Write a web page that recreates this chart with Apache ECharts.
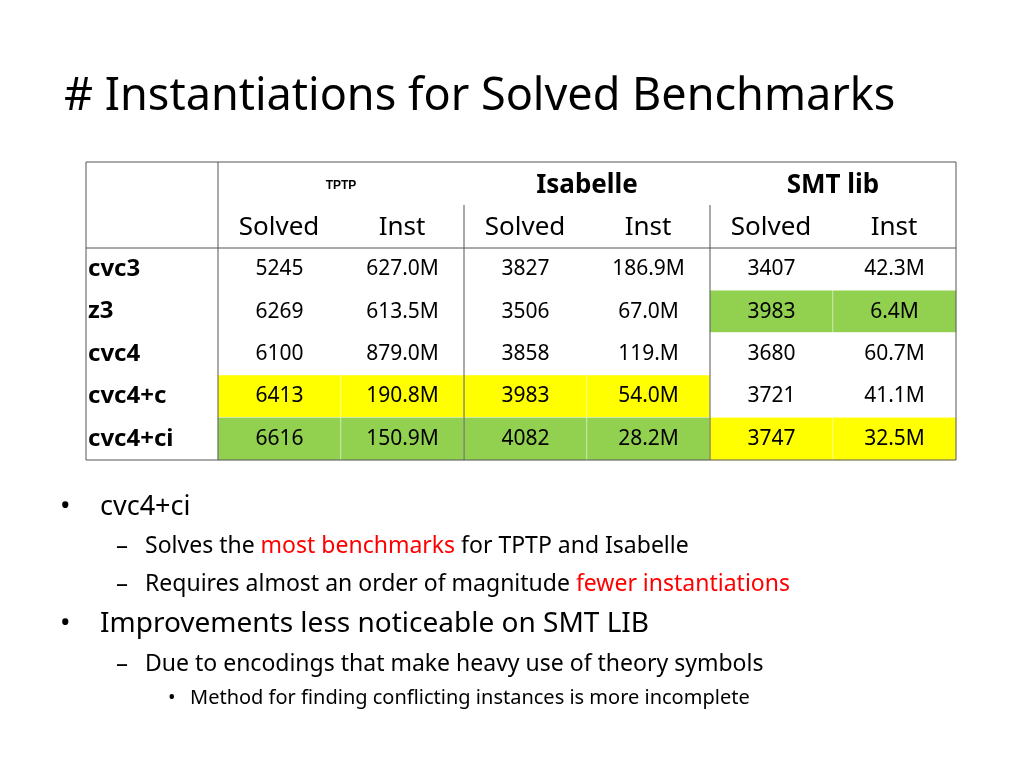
<!DOCTYPE html>
<html><head><meta charset="utf-8">
<script src="https://cdn.jsdelivr.net/npm/echarts@6/dist/echarts.min.js"></script>
<style>html,body{margin:0;background:#fff}#main{width:1024px;height:768px}</style>
</head><body><div id="main"></div>
<script>
var chartDom = document.getElementById('main');
var myChart = echarts.init(chartDom);
var option;

// filas y columnas de la tabla
var solvers = ['cvc3', 'z3', 'cvc4', 'cvc4+c', 'cvc4+ci'];
var columns = ['TPTP Solved', 'TPTP Inst', 'Isabelle Solved', 'Isabelle Inst', 'SMT Solved', 'SMT Inst'];
var tptpSolved = [5245, 6269, 6100, 6413, 6616];
var tptpInst = ['627.0M', '613.5M', '879.0M', '190.8M', '150.9M'];
var isaSolved = [3827, 3506, 3858, 3983, 4082];
var isaInst = ['186.9M', '67.0M', '119.M', '54.0M', '28.2M'];
var smtSolved = [3407, 3983, 3680, 3721, 3747];
var smtInst = ['42.3M', '6.4M', '60.7M', '41.1M', '32.5M'];
// 0 = blanco, 1 = amarillo, 2 = verde
var tptpMark = [0, 0, 0, 1, 2];
var isaMark = [0, 0, 0, 1, 2];
var smtMark = [0, 2, 0, 0, 1];

var fills = ['#ffffff', '#ffff00', '#92d050'];
var font = '"Noto Sans", sans-serif';

var cols = [tptpSolved, tptpInst, isaSolved, isaInst, smtSolved, smtInst];
var marks = [tptpMark, tptpMark, isaMark, isaMark, smtMark, smtMark];
var cells = [];
cols.forEach(function (col, c) {
    col.forEach(function (v, r) {
        cells.push({
            value: [c, r, marks[c][r]],
            label: { formatter: String(v) },
            itemStyle: { color: fills[marks[c][r]] }
        });
    });
});

var line = function (x1, y1, x2, y2) {
    return { type: 'line', shape: { x1: x1, y1: y1, x2: x2, y2: y2 }, style: { stroke: '#555', lineWidth: 1 }, z: 10 };
};
var txt = function (x, y, s, size, extra) {
    var st = { text: s, x: x, y: y, font: size + 'px ' + font, fill: '#000', textVerticalAlign: 'middle' };
    for (var k in extra) st[k] = extra[k];
    return { type: 'text', style: st, z: 10 };
};

option = {
    animation: false,
    grid: { left: 218, right: 68, top: 248, height: 212 },
    xAxis: { type: 'category', data: columns, show: false },
    yAxis: {
        type: 'category', data: solvers, inverse: true,
        axisLine: { show: false }, axisTick: { show: false }, splitLine: { show: false },
        axisLabel: { align: 'left', margin: 130, fontSize: 24, fontWeight: 'bold', color: '#000', fontFamily: font, padding: [0, 0, 6, 0] }
    },
    series: [{
        type: 'heatmap',
        data: cells,
        itemStyle: { borderColor: '#ffffff', borderWidth: 0.5 },
        label: { show: true, fontSize: 21, color: '#000', fontFamily: font }
    }],
    graphic: [
        txt(64, 97, '# Instantiations for Solved Benchmarks', 45, {}),
        line(86, 162, 956, 162), line(86, 460, 956, 460),
        line(86, 162, 86, 460), line(956, 162, 956, 460),
        line(218, 162, 218, 460), line(86, 248, 956, 248),
        line(464, 205, 464, 460), line(710, 205, 710, 460),
        txt(341, 186, 'TPTP', 26, { fontWeight: 'bold', textAlign: 'center', font: 'bold 26px ' + font }),
        txt(587, 186, 'Isabelle', 26, { textAlign: 'center', font: 'bold 26px ' + font }),
        txt(833, 186, 'SMT lib', 26, { textAlign: 'center', font: 'bold 26px ' + font }),
        txt(279, 228, 'Solved', 26, { textAlign: 'center' }),
        txt(402, 228, 'Inst', 26, { textAlign: 'center' }),
        txt(525, 228, 'Solved', 26, { textAlign: 'center' }),
        txt(648, 228, 'Inst', 26, { textAlign: 'center' }),
        txt(771, 228, 'Solved', 26, { textAlign: 'center' }),
        txt(894, 228, 'Inst', 26, { textAlign: 'center' }),
        txt(60, 507, '•', 28, {}), txt(100, 507, 'cvc4+ci', 27, {}),
        txt(116, 546, '–', 24, {}),
        { type: 'text', z: 10, style: { x: 145, y: 546, textVerticalAlign: 'middle', font: '23px ' + font, fill: '#000',
            text: '{a|Solves the }{b|most benchmarks}{a| for TPTP and Isabelle}',
            rich: { a: { fontSize: 23, fontFamily: font, fill: '#000' }, b: { fontSize: 23, fontFamily: font, fill: '#ff0000' } } } },
        txt(116, 584, '–', 24, {}),
        { type: 'text', z: 10, style: { x: 145, y: 584, textVerticalAlign: 'middle', font: '23px ' + font, fill: '#000',
            text: '{a|Requires almost an order of magnitude }{b|fewer instantiations}',
            rich: { a: { fontSize: 23, fontFamily: font, fill: '#000' }, b: { fontSize: 23, fontFamily: font, fill: '#ff0000' } } } },
        txt(60, 624, '•', 28, {}), txt(100, 624, 'Improvements less noticeable on SMT LIB', 28, {}),
        txt(116, 664, '–', 24, {}), txt(145, 664, 'Due to encodings that make heavy use of theory symbols', 23, {}),
        txt(168, 698, '•', 20, {}), txt(190, 698, 'Method for finding conflicting instances is more incomplete', 20, {})
    ]
};

option && myChart.setOption(option);
</script></body></html>
